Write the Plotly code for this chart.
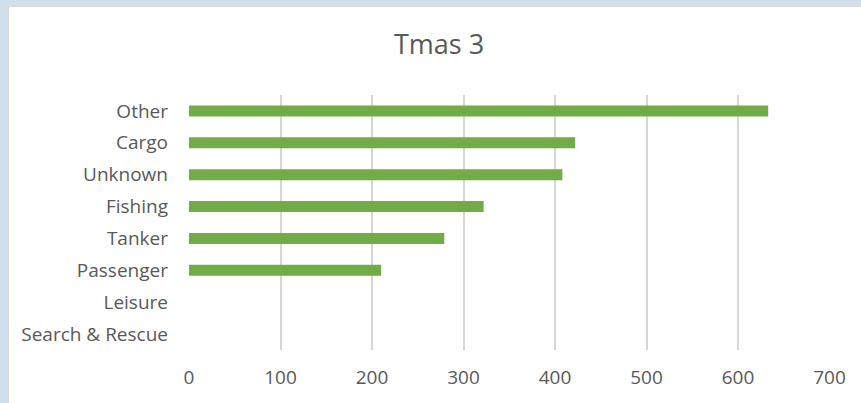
import plotly.graph_objects as go

categories = ["Other", "Cargo", "Unknown", "Fishing", "Tanker", "Passenger", "Leisure", "Search & Rescue"]
values = [633, 422, 408, 322, 279, 210, 0, 0]
x_ticks = [0, 100, 200, 300, 400, 500, 600, 700]
title_text = "Tmas 3"

W, H = 861, 403
TXT = "#595959"
FONT = "Open Sans"

fig = go.Figure(go.Bar(
    x=values, y=categories, orientation="h",
    marker=dict(color="#70ad47", line=dict(width=0)),
))

fig.update_layout(
    width=W, height=H,
    margin=dict(l=0, r=0, t=0, b=0),
    paper_bgcolor="#cfdfec",
    plot_bgcolor="white",
    bargap=0.655,
    showlegend=False,
    font=dict(family=FONT, color=TXT, size=19),
    title=dict(text=title_text, x=439 / W, y=1 - 45 / H, xanchor="center", yanchor="middle",
               font=dict(family=FONT, size=27, color=TXT)),
    shapes=[dict(type="rect", xref="paper", yref="paper", x0=8.5 / W, x1=1.05, y0=-0.05, y1=1 - 6.5 / H,
                 fillcolor="white", line=dict(color="#d9d9d9", width=1), layer="below")],
    xaxis=dict(domain=[189 / W, 829.5 / W], range=[0, 700], tickvals=x_ticks, automargin=False,
               showgrid=True, gridcolor="#d6d6d6", gridwidth=1.5, zeroline=False,
               showline=False, ticks="", ticklabelstandoff=14,
               tickfont=dict(family=FONT, size=19, color=TXT)),
    yaxis=dict(domain=[1 - 350 / H, 1 - 95 / H], autorange="reversed", automargin=False,
               showgrid=False, zeroline=False, showline=False, ticks="",
               ticklabelstandoff=20, tickfont=dict(family=FONT, size=19, color=TXT)),
)

fig.write_html("out.html")
